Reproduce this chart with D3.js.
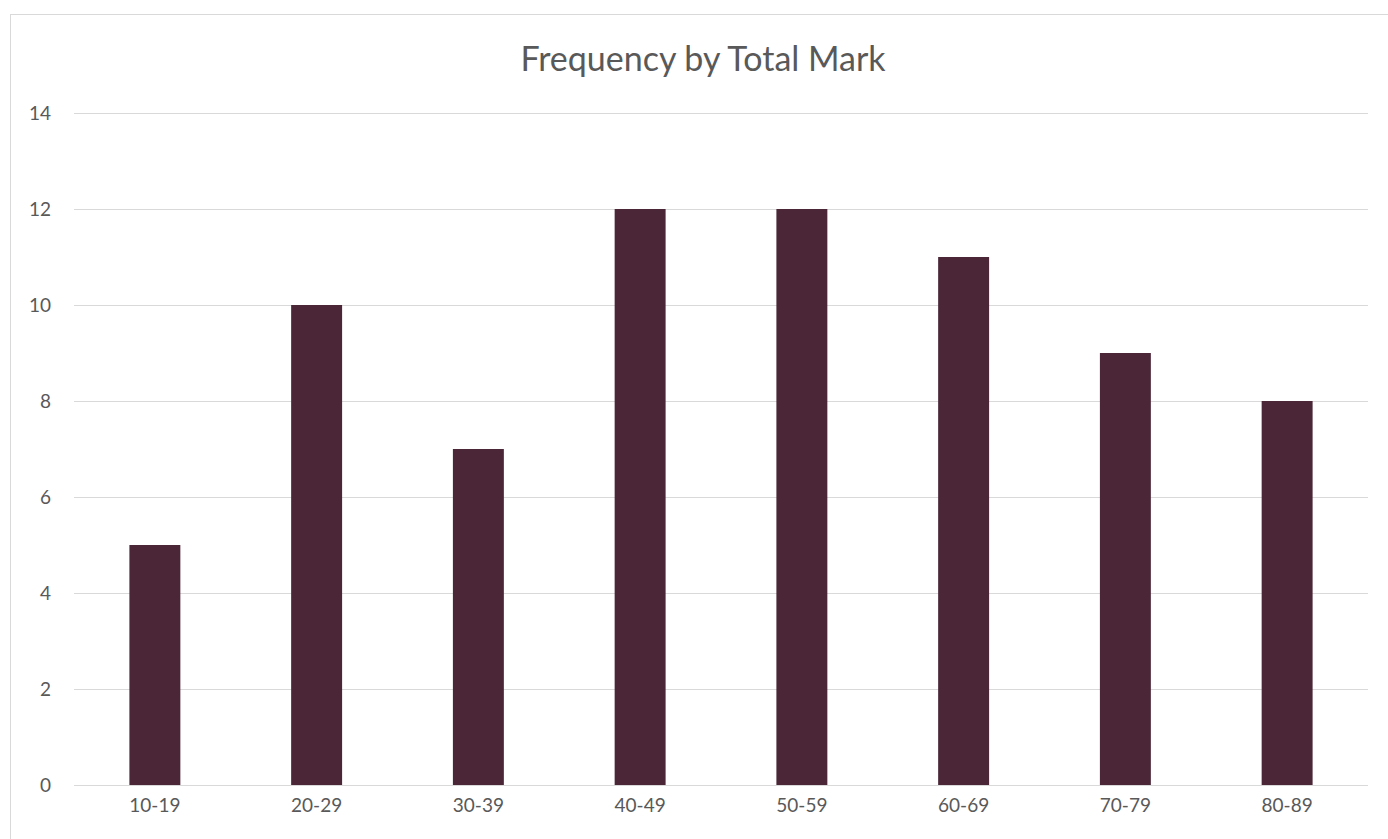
<!DOCTYPE html>
<html>
<head>
<meta charset="utf-8">
<script src="https://cdn.jsdelivr.net/npm/d3@7"></script>
<style>
    body { margin: 0; background: #fff; }
    svg { display: block; }
</style>
</head>
<body>
<div id="vis"></div>
<script>
// data
var categories = ["10-19", "20-29", "30-39", "40-49", "50-59", "60-69", "70-79", "80-89"];
var frequency = [5, 10, 7, 12, 12, 11, 9, 8];
var yTicks = [0, 2, 4, 6, 8, 10, 12, 14];

var width = 1388, height = 839;
var font = "Lato, 'Open Sans', sans-serif";

var svg = d3.select("#vis")
    .append("svg")
    .attr("width", width)
    .attr("height", height);

// chart frame
svg.append("rect")
    .attr("x", 10.5)
    .attr("y", 14.5)
    .attr("width", 1400)
    .attr("height", 900)
    .attr("fill", "#fff")
    .attr("stroke", "#d9d9d9")
    .attr("stroke-width", 1);

var x = d3.scaleBand()
    .domain(categories)
    .range([74, 1368])
    .paddingInner(0.685)
    .paddingOuter(0.3425);

var y = d3.scaleLinear()
    .domain([0, 14])
    .range([785, 113]);

// gridlines
svg.append("g")
    .selectAll("line")
    .data(yTicks)
    .enter()
    .append("line")
    .attr("x1", 74)
    .attr("x2", 1368)
    .attr("y1", function (d) { return Math.round(y(d)) + 0.5; })
    .attr("y2", function (d) { return Math.round(y(d)) + 0.5; })
    .attr("stroke", "#d9d9d9")
    .attr("stroke-width", 1);

// bars
svg.append("g")
    .selectAll("rect")
    .data(frequency)
    .enter()
    .append("rect")
    .attr("x", function (d, i) { return x(categories[i]); })
    .attr("y", function (d) { return y(d); })
    .attr("width", x.bandwidth())
    .attr("height", function (d) { return y(0) - y(d); })
    .attr("fill", "#4a2637");

// y labels
svg.append("g")
    .selectAll("text")
    .data(yTicks)
    .enter()
    .append("text")
    .attr("x", 51)
    .attr("y", function (d) { return y(d); })
    .attr("dy", "0.35em")
    .attr("text-anchor", "end")
    .attr("font-family", font)
    .attr("font-size", 19)
    .attr("fill", "#595959")
    .text(function (d) { return d; });

// x labels
svg.append("g")
    .selectAll("text")
    .data(categories)
    .enter()
    .append("text")
    .attr("x", function (d) { return x(d) + x.bandwidth() / 2; })
    .attr("y", 812)
    .attr("text-anchor", "middle")
    .attr("font-family", font)
    .attr("font-size", 19)
    .attr("fill", "#595959")
    .text(function (d) { return d; });

// title
svg.append("text")
    .attr("x", 703)
    .attr("y", 71)
    .attr("text-anchor", "middle")
    .attr("font-family", font)
    .attr("font-size", 34)
    .attr("fill", "#595959")
    .text("Frequency by Total Mark");
</script>
</body>
</html>
